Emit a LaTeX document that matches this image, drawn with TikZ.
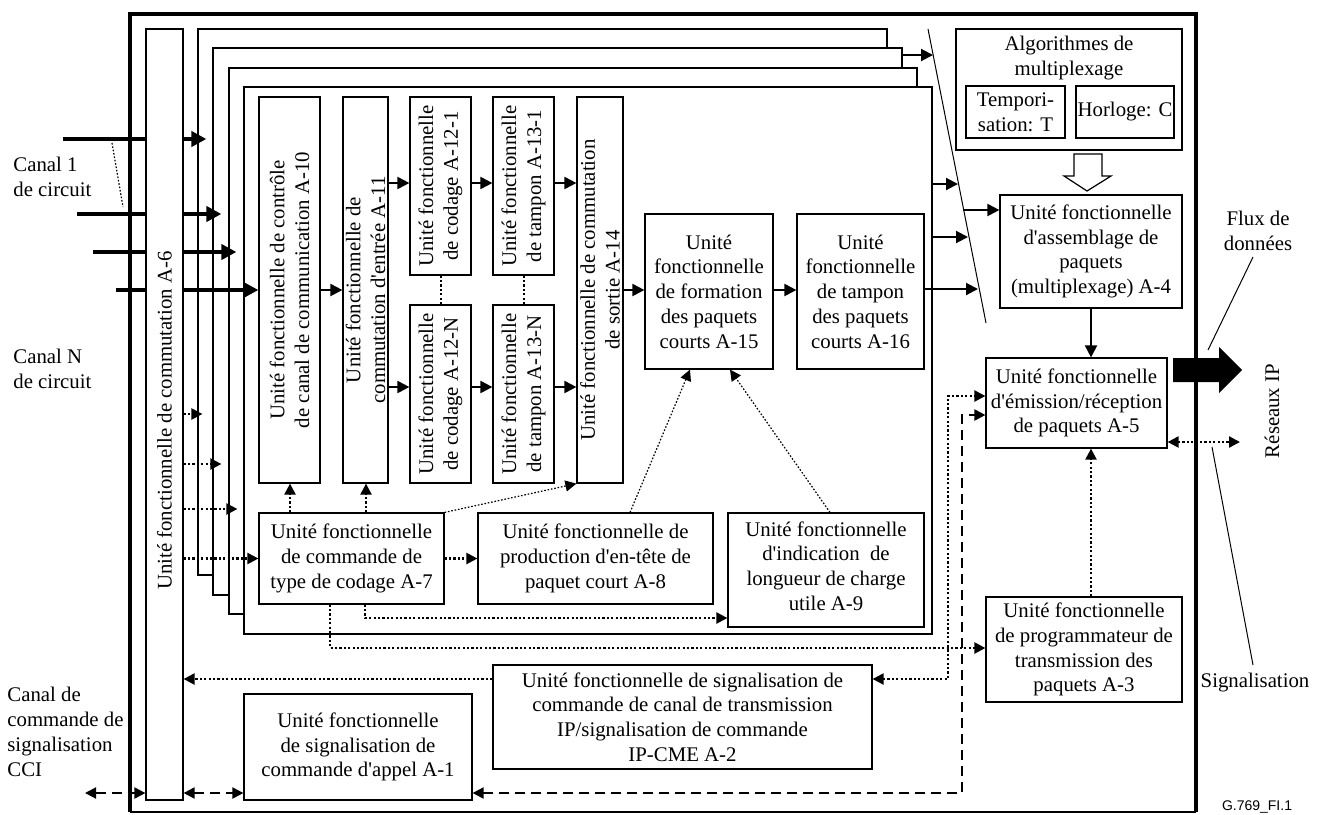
\documentclass[tikz,border=0pt]{standalone}
\usepackage{fontspec}
\setmainfont{Liberation Serif}[Ligatures=TeXOff]
\newfontfamily\labsans{Liberation Sans}
\usetikzlibrary{arrows.meta,fit,calc}
\newcommand\dfont{\fontsize{10.4pt}{12.4pt}\selectfont}
\begin{document}
\begin{tikzpicture}[x=0.5pt,y=-0.5pt,
  box/.style={draw, fill=white, line width=0.6pt, inner sep=0pt},
  vtext/.style={rotate=90, align=center, font=\dfont, inner sep=0pt},
  txt/.style={align=center, font=\dfont, inner sep=0pt},
  ltxt/.style={align=left, font=\dfont, inner sep=0pt, anchor=west},
  sarr/.style={line width=1pt, -{Triangle[length=6pt,width=6pt]}},
  tarr/.style={line width=2pt, -{Triangle[length=7.5pt,width=7.5pt]}},
  dotl/.style={line width=1.1pt, dash pattern=on 1.1pt off 1.1pt},
  darr/.style={dotl, -{Triangle[length=5.5pt,width=5.5pt]}},
  ddarr/.style={dotl, {Triangle[length=5.5pt,width=5.5pt]}-{Triangle[length=5.5pt,width=5.5pt]}},
  fdot/.style={line width=0.6pt, dash pattern=on 0.8pt off 0.9pt},
  fdarr/.style={fdot, -{Triangle[length=5.5pt,width=5.5pt]}},
  dasharr/.style={line width=1pt, dash pattern=on 5pt off 3pt, {Triangle[length=5.5pt,width=5.5pt]}-{Triangle[length=5.5pt,width=5.5pt]}},
  thin/.style={line width=0.5pt},
]
\useasboundingbox (0,0) rectangle (1325,814);

% outer frame
\draw[line width=0.6pt] (130,812) -- (1196,812);
\draw[line width=1.8pt] (130,812) -- (130,14) -- (1196,14) -- (1196,812);

% stacked channel blocks
\node[box, fit={(198,29)(887,575)}] (s1) {};
\node[box, fit={(213,48)(902,595)}] (s2) {};
\node[box, fit={(229,68)(917,614)}] (s3) {};
\node[box, fit={(244,87)(932,634)}] (s4) {};

% vertical boxes
\node[box, fit={(259,97)(320,483)}] (a10) {};
\node[vtext] (a10t) at (a10.center) {Unité fonctionnelle de contrôle\\de canal de communication A-10};
\node[box, fit={(343,97)(388,483)}] (a11) {};
\node[vtext] (a11t) at (a11.center) {Unité fonctionnelle de\\commutation d'entrée A-11};
\node[box, fit={(410,97)(471,275)}] (a121) {};
\node[vtext] (a121t) at (a121.center) {Unité fonctionnelle\\de codage A-12-1};
\node[box, fit={(410,305)(471,483)}] (a12n) {};
\node[vtext] (a12nt) at (a12n.center) {Unité fonctionnelle\\de codage A-12-N};
\node[box, fit={(493,97)(554,275)}] (a131) {};
\node[vtext] (a131t) at (a131.center) {Unité fonctionnelle\\de tampon A-13-1};
\node[box, fit={(493,305)(554,483)}] (a13n) {};
\node[vtext] (a13nt) at (a13n.center) {Unité fonctionnelle\\de tampon A-13-N};
\node[box, fit={(577,97)(623,483)}] (a14) {};
\node[vtext] (a14t) at (a14.center) {Unité fonctionnelle de commutation\\de sortie A-14};

% horizontal boxes
\node[box, fit={(645,214)(773,369)}] (a15) {};
\node[txt] (a15t) at (a15.center) {Unité\\fonctionnelle\\de formation\\des paquets\\courts A-15};
\node[box, fit={(797,214)(924,369)}] (a16) {};
\node[txt] (a16t) at (a16.center) {Unité\\fonctionnelle\\de tampon\\des paquets\\courts A-16};
\node[box, fit={(259,513)(444,604)}] (a7) {};
\node[txt] (a7t) at (a7.center) {Unité fonctionnelle\\de commande de\\type de codage A-7};
\node[box, fit={(478,513)(713,604)}] (a8) {};
\node[txt] (a8t) at (a8.center) {Unité fonctionnelle de\\production d'en-tête de\\paquet court A-8};
\node[box, fit={(728,513)(924,627)}] (a9) {};
\node[txt] (a9t) at ([yshift=2pt]a9.center) {Unité fonctionnelle\\d'indication\ \ de\\longueur de charge\\utile A-9};

\node[box, fit={(956,29)(1182,150)}] (alg) {};
\node[txt] (algt) at (1069,58) {Algorithmes de\\multiplexage};
\node[box, fit={(966,86)(1065,138)}] (tempo) {};
\node[txt] (tempot) at (tempo.center) {Tempori-\\sation: T};
\node[box, fit={(1076,86)(1174,138)}] (horl) {};
\node[txt] (horlt) at (horl.center) {Horloge: C};
\node[box, fit={(1000,195)(1182,308)}] (a4) {};
\node[txt] (a4t) at (a4.center) {Unité fonctionnelle\\d'assemblage de\\paquets\\(multiplexage) A-4};
\node[box, fit={(986,358)(1167,448)}] (a5) {};
\node[txt] (a5t) at (a5.center) {Unité fonctionnelle\\d'émission/réception\\de paquets A-5};
\node[box, fit={(986,597)(1182,702)}] (a3) {};
\node[txt] (a3t) at (a3.center) {Unité fonctionnelle\\de programmateur de\\transmission des\\paquets A-3};
\node[box, fit={(493,665)(872,769)}] (a2) {};
\node[txt] (a2t) at (a2.center) {Unité fonctionnelle de signalisation de\\commande de canal de transmission\\IP/signalisation de commande\\IP-CME A-2};
\node[box, fit={(244,694)(472,800)}] (a1) {};
\node[txt] (a1t) at (a1.center) {Unité fonctionnelle\\de signalisation de\\commande d'appel A-1};

% left labels
\node[ltxt] (c1) at (13,177) {Canal 1\\de circuit};
\node[ltxt] (cn) at (13,369) {Canal N\\de circuit};
\node[ltxt] (cci) at (7,732) {Canal de\\commande de\\signalisation\\CCI};

% thick inputs
\coordinate (in1) at (63,139);
\coordinate (in2) at (77,214);
\coordinate (in3) at (93,252);
\coordinate (in4) at (116,290);
\draw[tarr, shorten >=-4.5pt] (in1) -- (s1.west |- in1);
\draw[tarr, shorten >=-4.5pt] (in2) -- (s2.west |- in2);
\draw[tarr, shorten >=-4pt] (in3) -- (s3.west |- in3);
\draw[tarr] (in4) -- (a10.west |- in4);
\coordinate (dd1) at (112,143);
\coordinate (dd2) at (123,207);
\draw[fdot] (dd1) -- (dd2);

% A-6 on top
\node[box, fit={(146,29)(183,800)}] (a6) {};
\node[vtext] (a6t) at ([yshift=-3pt]a6.center) {Unité fonctionnelle de commutation A-6};

% dotted from A-6
\draw[darr, shorten >=-2.5pt] (a6.east |- 0,414) -- (s1.west |- 0,414);
\draw[darr, shorten >=-4.5pt] (a6.east |- 0,464) -- (s2.west |- 0,464);
\draw[darr, shorten >=-4.5pt] (a6.east |- 0,509) -- (s3.west |- 0,509);
\draw[darr] (a6.east |- a7.west) -- (a7.west);

% dashed signalling
\coordinate (ccil) at (85,793);
\draw[dasharr] (ccil) -- (a6.west |- ccil);
\draw[dasharr] (a6.east |- ccil) -- (a1.west |- ccil);
\coordinate (dc) at (962,415);
\draw[dasharr] (a1.east |- ccil) -| (dc) -- (a5.west |- dc);

% dotted A-2 / A-5 / A-6
\coordinate (dt) at (948,396);
\draw[ddarr] (a2.east |- 0,679) -| (dt) -- (a5.west |- dt);
\draw[darr] (a2.west |- 0,679) -- (a6.east |- 0,679);

% A-7 dotted controls
\draw[darr] (290,0 |- a7.north) -- (290,0 |- a10.south);
\draw[darr] (366,0 |- a7.north) -- (366,0 |- a11.south);
\draw[fdarr] (a7.north east) -- (a14.south west);
\draw[darr] (a7.east) -- (a8.west |- a7.east);
\draw[darr] (365,0 |- a7.south) |- (a9.west |- 0,618);
\draw[darr] (330,0 |- a7.south) |- (a3.west |- 0,648);
\draw[fdarr] (630,0 |- a8.north) -- (690,0 |- a15.south);
\draw[fdarr] (830,0 |- a9.north) -- (730,0 |- a15.south);

% solid chain
\draw[sarr] (a10.east) -- (a11.west |- a10.east);
\draw[sarr] (a11.east |- 0,183) -- (a121.west |- 0,183);
\draw[sarr] (a11.east |- 0,387) -- (a12n.west |- 0,387);
\draw[sarr] (a121.east |- 0,183) -- (a131.west |- 0,183);
\draw[sarr] (a12n.east |- 0,387) -- (a13n.west |- 0,387);
\draw[sarr] (a131.east |- 0,183) -- (a14.west |- 0,183);
\draw[sarr] (a13n.east |- 0,387) -- (a14.west |- 0,387);
\draw[sarr] (a14.east |- 0,290) -- (a15.west |- 0,290);
\draw[sarr] (a15.east |- 0,290) -- (a16.west |- 0,290);
\draw[dotl] (441,0 |- a121.south) -- (441,0 |- a12n.north);
\draw[dotl] (524,0 |- a131.south) -- (524,0 |- a13n.north);

% slanted line and outputs
\coordinate (sl1) at (928,29);
\coordinate (sl2) at (986,323);
\draw[thin] (sl1) -- (sl2);
\draw[sarr] (s2.east |- 0,55) -- (933,55);
\draw[sarr] (s4.east |- 0,184) -- (958,184);
\draw[sarr] (963,210) -- (a4.west |- 0,210);
\draw[sarr] (s4.east |- 0,237) -- (968,237);
\draw[sarr] (a16.east |- 0,289) -- (978,289);

% hollow arrow
\draw[line width=0.6pt, fill=white] (1074,154) -- (1102,154) -- (1102,176) -- (1111,176) -- (1087,191) -- (1064,176) -- (1074,176) -- cycle;
\draw[sarr] (a4.south) -- (a4.south |- a5.north);
\draw[darr] (1091,0 |- a3.north) -- (1091,0 |- a5.south);
\draw[ddarr] (a5.east |- 0,442) -- (1240,442);

% big black arrow
\fill (1173,358) -- (1219,358) -- (1219,347) -- (1242,370) -- (1219,393) -- (1219,382) -- (1173,382) -- cycle;

% right labels
\node[txt] (flux) at (1258,231) {Flux de\\données};
\draw[thin] (1253,257) -- (1208,350);
\node[vtext] (reseaux) at (1272,411) {Réseaux IP};
\node[txt] (sig) at (1255,683) {Signalisation};
\draw[thin] (1212,447) -- (1253,665);
\node[font=\labsans\fontsize{7pt}{8pt}\selectfont, inner sep=0pt] (fig) at (1257,807) {G.769\_FI.1};
\end{tikzpicture}
\end{document}
